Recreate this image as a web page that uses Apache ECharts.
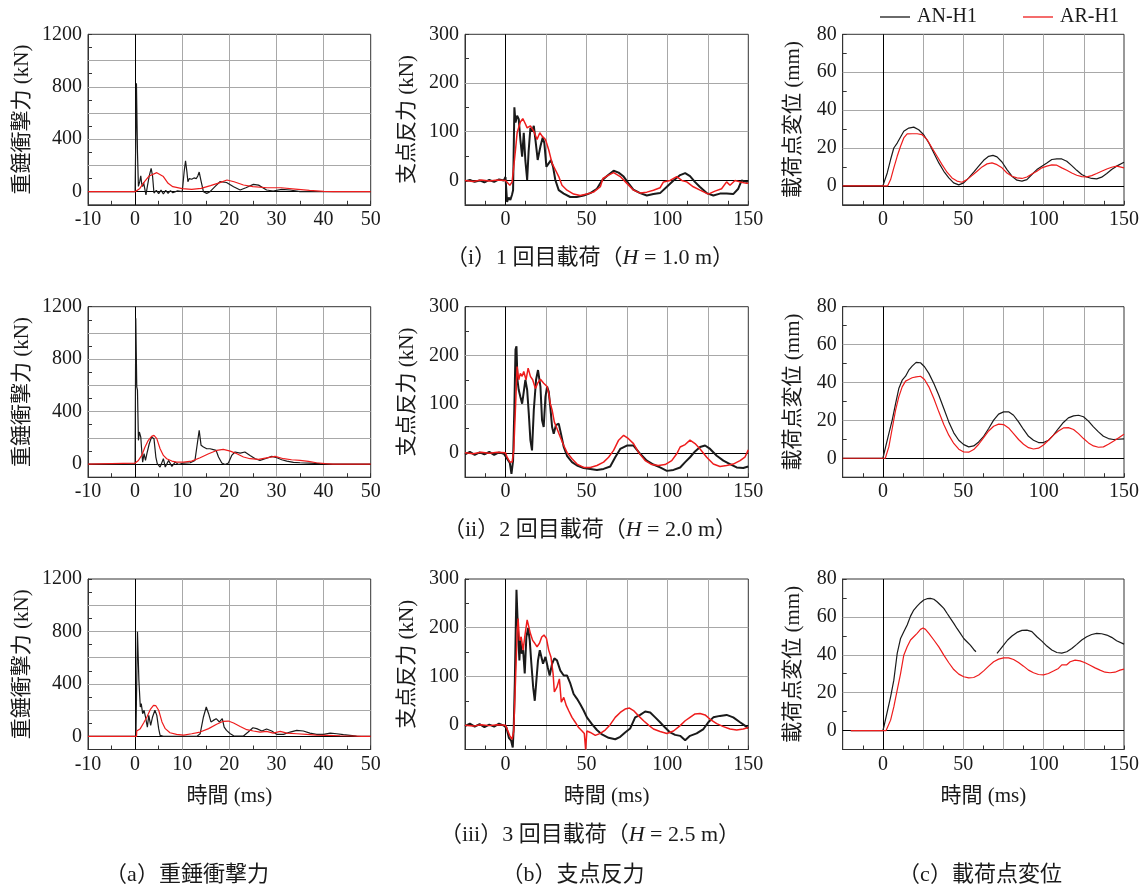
<!DOCTYPE html>
<html><head><meta charset="utf-8">
<script src="https://cdn.jsdelivr.net/npm/echarts@6/dist/echarts.min.js"></script>
<style>html,body{margin:0;padding:0;background:#fff}#c{width:1146px;height:888px}</style>
</head><body><div id="c"></div>
<script>
// ---------- data: [time (ms), value] ----------
// (a) 重錘衝撃力 (kN)
const A1N=[[-10,0],[0,0],[0.1,10],[0.28,826],[0.5,300],[0.7,40],[1.0,80],[1.2,120],[1.4,60],[1.6,40],[1.8,70],[2.0,76],[2.3,-25],[2.6,40],[3.0,120],[3.4,178],[3.7,120],[4.0,-10],[4.5,10],[5,-15],[5.5,12],[6,-18],[6.5,10],[7,-12],[7.5,8],[8,-8],[9,6],[10,0],[10.1,10],[10.4,150],[10.7,236],[11.0,150],[11.2,76],[11.5,100],[12,95],[12.5,105],[13,100],[13.3,120],[13.6,150],[14,80],[14.5,0],[15.2,-13],[15.9,0],[17,40],[18,76],[19.4,70],[20.9,38],[22.3,13],[23.5,30],[25.1,56],[26.2,50],[27.9,13],[29.3,5],[31.1,18],[32.9,13],[35,0],[50,0]];
const A1R=[[-10,0],[0,0],[1,25],[2,76],[3,120],[4.6,145],[6,115],[7,64],[8,38],[10,23],[12,18],[14,25],[16,46],[18,69],[19.5,89],[21,76],[23,51],[25,38],[28,30],[31,30],[34,20],[37,10],[40,3],[42,0],[50,0]];
const A2N=[[-10,0],[0,0],[0.14,1111],[0.35,589],[0.5,563],[0.7,181],[0.9,245],[1.2,206],[1.4,104],[1.6,15],[1.9,79],[2.2,28],[2.5,79],[3,155],[3.5,206],[4,194],[4.4,54],[4.7,3],[5.3,-23],[6,41],[6.4,-23],[7.1,28],[7.8,-18],[8.5,15],[9.2,-3],[10.3,8],[11.7,10],[12.7,28],[13.1,130],[13.6,257],[14,143],[14.5,130],[15.2,117],[15.9,117],[16.6,110],[17.2,104],[17.7,54],[18.4,8],[19.1,-3],[19.8,8],[20.5,66],[21.2,92],[22.3,84],[23.3,92],[24.4,66],[25.5,41],[26.5,28],[27.6,41],[29,59],[30.1,48],[31.1,33],[32.2,23],[33.6,13],[35,10],[37.1,8],[39.2,3],[41.4,0],[50,0]];
const A2R=[[-10,0],[0,8],[0.7,28],[1.4,66],[2.1,130],[2.8,181],[3.5,211],[4,219],[4.6,194],[5.3,117],[6,66],[6.7,41],[7.8,23],[8.8,15],[10.3,15],[12,23],[13.8,48],[15.6,79],[17.3,104],[18.7,112],[20.2,99],[21.6,79],[23,54],[24.4,41],[26.2,36],[27.9,48],[29.7,59],[31.5,41],[33.2,33],[35,28],[36.8,20],[38.5,10],[40.3,3],[42,0],[50,0]];
const A3N=[[-10,0],[0.2,0],[0.2,71],[0.5,797],[0.8,428],[1.1,224],[1.3,250],[1.6,173],[1.9,199],[2.2,148],[2.6,71],[2.9,160],[3.3,84],[3.7,148],[4.2,199],[4.6,160],[5,59],[5.3,8],[6,0],[13.1,0],[13.8,20],[14.5,148],[15.1,224],[15.6,173],[16.1,110],[16.6,122],[17.2,135],[17.9,110],[18.5,135],[18.9,71],[19.4,46],[20.2,20],[20.9,5],[23,3],[24,33],[25,66],[25.8,59],[26.9,41],[27.9,56],[29,41],[30.1,15],[31.5,15],[32.9,33],[34.3,46],[35.7,41],[37.1,25],[38.5,15],[40,15],[41.4,25],[42.8,20],[44.2,13],[45.6,8],[47,3],[48,0],[50,0]];
const A3R=[[-10,0],[0.3,0],[0.35,41],[0.7,33],[1.1,59],[1.8,102],[2.5,148],[3.2,204],[3.9,237],[4.4,234],[5,199],[5.7,110],[6.4,59],[7.4,28],[8.8,15],[10.3,10],[12,20],[13.8,33],[15.6,59],[17.3,92],[18.7,115],[19.8,117],[20.9,102],[22.3,76],[23.7,51],[25.1,41],[26.5,33],[27.9,38],[29.3,25],[30.8,38],[32.2,25],[34.3,20],[36.4,15],[38.5,10],[40.7,8],[43.5,5],[46.3,3],[48,0],[50,0]];
// (b) 支点反力 (kN)
const B1N=[[-25,-2],[-22,1],[-19,-3],[-16,0],[-13,-4],[-10,1],[-7,-3],[-4,2],[-1,0],[0,7],[1,-44],[2,-35],[3,-40],[4,-30],[4.7,-20],[5.5,150],[6.2,119],[7.2,133],[8.2,126],[9.2,84],[10.3,49],[11.3,98],[12.3,40],[13.4,1],[14.3,60],[15.4,108],[16.4,100],[17.5,112],[18.5,84],[19.9,42],[21.6,70],[23,88],[24,77],[25.3,28],[26.7,35],[28.1,42],[29.4,28],[30.8,1],[32.9,-20],[36,-27],[40,-34],[44,-34],[48.3,-31],[52.4,-26],[56.5,-17],[59.6,0],[62.7,9],[66.8,20],[69.9,16],[73,8],[76,-6],[79,-19],[83.2,-26],[87.3,-31],[91.4,-28],[95.5,-26],[99.7,-13],[103.8,0],[107.9,11],[111,15],[114,9],[117,-3],[120,-13],[124.3,-26],[128.4,-31],[132.5,-27],[136.6,-27],[140.7,-28],[143.8,-17],[145.9,0],[149,-3],[150,-2]];
const B1R=[[-25,0],[-20,-2],[-15,1],[-10,-1],[-5,1],[0,0],[2.7,-10],[4.1,-3],[5.1,28],[6.2,63],[7.2,98],[9.2,120],[10.7,127],[11.9,119],[13.4,108],[15.4,112],[17.5,101],[19.5,84],[21.2,98],[22.6,91],[24.7,84],[26.7,63],[28.8,35],[30.8,22],[32.9,8],[34.9,-10],[38,-20],[42.1,-28],[46.2,-31],[50.3,-28],[54.4,-24],[58.6,-13],[60.2,4],[63.7,11],[66.8,16],[70.9,8],[75,-6],[79.1,-20],[83.2,-26],[87.3,-24],[91.4,-20],[95.5,-15],[97.6,-3],[101.7,0],[105.8,8],[108.9,0],[112,-3],[116,-13],[120.2,-20],[125.3,-28],[129.4,-22],[133.5,-17],[136.6,-3],[138.7,-10],[141.8,0],[144.9,-3],[149,-6],[150,-6]];
const B2N=[[-25,-3],[-22,2],[-19,-4],[-16,1],[-13,-3],[-10,2],[-7,-4],[-4,1],[-1,-2],[0,0],[1,-12],[2.7,-21],[3.7,-43],[4.7,-16],[5.5,94],[6.2,212],[6.8,219],[7.4,150],[8.2,129],[9.2,115],[10.3,101],[11.3,98],[12.3,150],[13.4,129],[14.4,81],[15.4,26],[16.4,5],[17.5,88],[18.9,150],[20.1,170],[21.6,136],[22.6,67],[23.6,53],[24.7,115],[25.7,136],[26.7,126],[27.7,94],[28.8,53],[29.8,39],[31.2,57],[32.9,60],[34.3,39],[36,12],[38,-6],[41.1,-19],[44.2,-26],[48.3,-31],[52.4,-33],[56.5,-35],[60.6,-33],[64.7,-28],[67.8,-9],[70.9,8],[75,15],[79.1,15],[83.2,-2],[87.3,-16],[91.4,-24],[95.5,-30],[99.7,-37],[103.8,-35],[107.9,-30],[111,-19],[114,-9],[117.1,3],[120.2,12],[123.3,15],[126.4,8],[130.5,-6],[134.6,-16],[138.7,-23],[142.8,-30],[146.9,-31],[150,-28]];
const B2R=[[-25,0],[-20,-2],[-15,1],[-10,-1],[-5,1],[0,0],[1,-9],[2.7,-19],[4.1,-19],[5.1,5],[6.2,94],[7.2,177],[8.2,150],[9.2,163],[10.3,157],[11.3,167],[12.7,150],[14,174],[15.4,157],[16.8,150],[18.5,132],[19.9,143],[21.6,151],[23.6,143],[25.7,136],[26.7,122],[27.7,101],[28.8,88],[30.2,63],[31.8,50],[33.9,32],[36,15],[38,1],[41.1,-12],[44.2,-23],[48.3,-30],[52.4,-30],[56.5,-26],[60.6,-19],[63.7,-9],[66.8,5],[69.9,26],[73,36],[76,29],[79.1,19],[82.2,1],[86.3,-16],[90.4,-24],[94.5,-26],[98.6,-24],[102.7,-16],[105.8,-2],[107.9,12],[111,17],[114,26],[117.1,19],[120.2,8],[124.3,-9],[128.4,-23],[132.5,-28],[136.6,-26],[140.7,-23],[144.9,-16],[147.9,-9],[150,6]];
const B3N=[[-25,-2],[-22,3],[-19,-3],[-16,2],[-13,-4],[-10,1],[-7,-3],[-4,3],[-1,-1],[0.6,-5],[2.1,-26],[3.5,-32],[4.5,-46],[5.1,-5],[5.8,92],[6.4,209],[6.8,278],[7.4,223],[8,174],[8.6,133],[9.2,174],[10.1,147],[10.9,154],[11.9,106],[12.9,181],[14,199],[15,174],[16,126],[17.1,78],[18.1,50],[19.1,92],[20.1,133],[21.2,154],[22.2,140],[23.2,126],[24.7,140],[26.1,119],[27.3,102],[28.8,126],[30.2,137],[31.8,133],[33.9,112],[36,102],[38,102],[40.1,85],[42.1,64],[44.2,54],[46.2,43],[48.3,30],[50.3,16],[53.4,2],[56.5,-10],[59.6,-19],[63.7,-26],[67.8,-29],[70.9,-24],[73.9,-15],[77,-7],[80.1,16],[83.2,21],[86.3,28],[89.4,26],[92.5,16],[95.5,6],[98.6,-5],[101.7,-15],[104.8,-20],[107.9,-22],[111,-31],[114,-22],[118.1,-17],[122.3,-8],[125.3,6],[128.4,16],[132.5,19],[136.6,21],[140.7,16],[144.9,6],[147.9,-1],[150,-6]];
const B3R=[[-25,0],[-20,-2],[-15,1],[-10,-1],[-5,1],[0,0],[1,-8],[2.7,-22],[4.1,-29],[5.1,-12],[6.2,92],[7.2,188],[7.8,219],[8.6,174],[9.7,181],[10.9,154],[11.9,181],[13.4,216],[14.4,219],[15.4,188],[16.8,174],[18.1,168],[19.5,161],[21,168],[22.4,181],[23.8,185],[25.3,178],[26.7,154],[28.1,140],[29.4,106],[30.2,68],[31.8,78],[33.3,95],[34.5,47],[36,57],[37.6,40],[39,30],[41.1,16],[43.1,6],[45.2,-5],[47.3,-12],[48.7,-17],[49.5,-50],[50.3,-12],[52.4,-15],[55.5,-21],[58.6,-17],[61.6,-10],[64.7,1],[67.8,16],[70.9,26],[73.9,33],[76.6,35],[79.1,30],[82.2,19],[85.3,9],[88.4,0],[91.4,-8],[95.5,-13],[99.7,-17],[103.8,-12],[107.9,-1],[111,9],[114,16],[117.1,23],[120.2,24],[123.3,21],[126.4,12],[130.5,3],[134.6,-3],[138.7,-8],[142.8,-10],[146.9,-8],[150,-5]];
// (c) 載荷点変位 (mm)
const C1N=[[-25,0],[0,0],[0.6,0.7],[2.7,6.8],[4.8,13.9],[6.8,20],[8.9,22.6],[11,25.8],[13,28.8],[16.1,30.5],[19.2,31],[22.3,29.6],[25.4,27],[28.6,22.6],[31.7,17.4],[34.8,12.1],[37.9,7.7],[41,4.2],[44,1.6],[47.2,0.5],[50.3,1.6],[53.4,4.2],[56.5,7.2],[59.6,10.4],[62.7,13.5],[65.8,15.6],[68.5,16.1],[71,15.3],[74.1,12.6],[77.2,8.6],[80.3,5.1],[83.4,3],[86.5,2.5],[89.6,3.3],[92.7,6],[95.8,8.6],[98.9,10.4],[102,12.1],[105.1,13.9],[108.2,14.2],[111.3,14.2],[114.4,13],[117.5,10.7],[120.6,8.2],[123.7,6],[126.8,4.7],[129.9,3.9],[133,3.7],[136.1,4.6],[139.3,6.5],[142.3,8.6],[145.4,10.4],[150,12.5]];
const C1R=[[-25,0],[3,0],[4.8,3.3],[6.8,9.5],[8.9,15.6],[11,20.9],[13,25.3],[15.1,27.4],[18.2,27.5],[21.3,27.5],[24.4,27],[27.5,24.4],[30.6,20],[33.7,15.6],[36.8,11.2],[39.9,7.2],[43,4.2],[46.1,2.5],[49.2,1.9],[52.3,3.3],[55.4,5.4],[58.6,7.7],[61.7,10],[64.8,11.6],[67.9,12.1],[71,11.2],[74.1,9.5],[77.2,6.8],[80.3,5.1],[83.4,4.2],[86.5,3.9],[89.6,4.7],[92.7,6.3],[95.8,7.7],[98.9,9.5],[102,10.4],[105.1,11.1],[108.2,10.9],[111.3,9.5],[114.4,8.2],[117.5,6.8],[120.6,5.6],[123.7,4.9],[126.8,4.7],[129.9,5.4],[133,6.5],[136.1,7.7],[139.3,8.9],[142.3,9.8],[145.4,10.4],[147.5,10],[150,9.5]];
const C2N=[[-25,0],[0,0],[1.7,6],[3.7,13],[5.8,20.1],[7.9,28.9],[9.9,36.8],[12,41.2],[14.1,43.3],[16.1,46.5],[18.2,48.6],[20.7,50.6],[23.4,50.4],[25.9,48.3],[28.6,44.8],[31.7,39.5],[34.8,33.3],[37.9,26.3],[41,19.2],[44.1,13.4],[47.2,9.5],[50.3,7.2],[53.4,6],[56.5,6.5],[59.6,8.6],[62.7,11.6],[65.8,15.7],[68.9,20.1],[72,23.3],[75.1,24.5],[78.2,24.5],[81.3,22.7],[84.4,19.2],[87.5,15.2],[90.6,11.6],[93.7,9.5],[96.8,8.3],[99.9,8.3],[103,9.5],[106.1,12.2],[109.2,15.7],[112.3,18.9],[115.4,21.3],[118.6,22.4],[121.7,22.7],[124.8,21.9],[127.9,19.6],[131,16.6],[134.1,13.9],[137.2,11.6],[140.3,10.4],[143.4,9.9],[150,10.2]];
const C2R=[[-25,0],[1.5,0],[1.7,0.3],[3.7,6],[5.8,15.7],[7.9,25.4],[9.9,32.4],[12,37.7],[14.1,40.7],[16.1,41.6],[18.2,42.5],[20.7,43],[23.4,43.3],[25.9,41.6],[28.6,37.7],[31.7,31.5],[34.8,24.5],[37.9,17.8],[41,12.2],[44.1,7.8],[47.2,4.8],[50.3,3.3],[53.4,3.2],[56.5,4.6],[59.6,7.4],[62.7,10.9],[65.8,14.4],[68.9,16.9],[72,18],[75.1,17.8],[78.2,16],[81.3,13],[84.4,9.9],[87.5,7.4],[90.6,5.6],[93.7,4.9],[96.8,5.3],[99.9,7],[103,9.5],[106.1,12.2],[109.2,14.4],[112.3,16],[115.4,16.2],[118.6,15.2],[121.7,13],[124.8,10.4],[127.9,8.1],[131,6.5],[134.1,5.8],[137.2,6],[140.3,7.4],[143.4,9],[146.5,10.7],[150,12.7]];
const C3N=[[-20,0],[0,0],[0.6,1.9],[2.7,9.9],[4.8,17.8],[6.8,26.6],[8.9,40.7],[11,48.6],[13,52.2],[15.1,55.7],[17.2,60.4],[19.2,63.6],[21.3,65.7],[23.4,67.5],[25.4,68.9],[27.5,69.6],[29.6,69.8],[31.7,69.3],[33.7,68],[35.8,66.3],[37.9,64.5],[39.9,61.9],[42,59.2],[44.1,56.6],[46.1,53.9],[48.2,51.3],[50.3,48.6],[52.3,46.9],[54.4,45.1],[56.5,42.8],[57.9,41.6],[64,null],[71,40.7],[73,42.8],[75.1,45.1],[77.6,47.8],[80.3,49.9],[83.4,51.8],[86.5,52.9],[89.6,53],[92.7,52.2],[95.8,49.5],[98.9,47.2],[102,44.6],[105.1,42.5],[108.2,41.2],[111.3,40.9],[114.4,41.6],[117.5,43.3],[120.6,45.5],[123.7,47.8],[126.8,49.5],[129.9,50.7],[133,51.3],[136.1,51.1],[139.3,50.4],[142.3,49.2],[145.4,47.4],[150,45.6]];
const C3R=[[-20,0],[2,0],[3.1,1],[4.8,5.5],[6.8,12.5],[8.9,21.3],[11,30.1],[13,39.8],[15.1,44.2],[17.2,47.8],[19.2,49.5],[21.3,51.3],[23.4,53.4],[25,54.1],[26.5,53.4],[28.6,51.3],[31.7,47.8],[34.8,44.2],[37.9,39.8],[41,35.8],[44.1,32.2],[47.2,29.8],[50.3,28.4],[53.4,27.8],[56.5,28],[59.6,29.3],[62.7,31.5],[65.8,34],[68.9,36.3],[72,37.7],[75.1,38.4],[78.2,38.4],[81.3,37.5],[84.4,35.9],[87.5,34],[90.6,31.9],[93.7,30.5],[96.8,29.6],[99.9,29.4],[103,30.1],[106.1,31.4],[109.2,32.8],[111.3,34.7],[114.4,34.7],[116.5,36.3],[119.6,37.2],[122.7,36.8],[125.8,35.8],[128.9,34.5],[132,33.1],[135.1,31.9],[138.2,30.8],[141.3,30.5],[144.4,30.8],[147.5,31.9],[150,32.4]];

const seriesNames=['AN-H1','AR-H1'];
const yTitles=['重錘衝撃力 (kN)','支点反力 (kN)','載荷点変位 (mm)'];
const xTitle='時間 (ms)';
const rowCaptions=[['（i）1 回目載荷（',' = 1.0 m）'],['（ii）2 回目載荷（',' = 2.0 m）'],['（iii）3 回目載荷（',' = 2.5 m）']];
const colCaptions=['（a）重錘衝撃力','（b）支点反力','（c）載荷点変位'];
const panelData=[[[A1N,A1R],[B1N,B1R],[C1N,C1R]],[[A2N,A2R],[B2N,B2R],[C2N,C2R]],[[A3N,A3R],[B3N,B3R],[C3N,C3R]]];
// axis scales per column (ticks every int, labels every lab, grid lines at gridX / gridY)
const xScales=[{min:-10,max:50,int:5,lab:10,labMin:-10},{min:-25,max:150,int:12.5,lab:50,labMin:0},{min:-25,max:150,int:12.5,lab:50,labMin:0}];
const yScales=[{min:-100,max:1200,int:100,lab:400,labMin:0},{min:-50,max:300,int:50,lab:100,labMin:0},{min:-10,max:80,int:10,lab:20,labMin:0}];
const gridX=[[10,20,30,40],[25,50,75,100,125],[25,50,75,100,125]];
const gridY=[[200,400,600,800,1000],[100,200],[20,40,60]];

// ---------- layout / style ----------
const colBox=[{left:88,width:282.7,nameGap:55},{left:465,width:283.3,nameGap:47},{left:842.7,width:281.3,nameGap:39}];
const rowTop=[34.3,306.7,579], rowH=170.5;
const NUMF="Liberation Serif, Times New Roman, serif";
const SERIF="Liberation Serif, Noto Sans CJK JP, serif";
const TXT='#1a1a1a', GRIDC='#a8a8a8', FRAME='#333', BLACK='#1a1a1a', RED='#ee1c1c';
const isMul=(v,s)=>Math.abs(v/s-Math.round(v/s))<1e-6;
function axisBase(a){return{type:'value',min:a.min,max:a.max,interval:a.int,
  axisLine:{show:true,onZero:false,lineStyle:{color:FRAME,width:1}},
  axisTick:{show:true,inside:true,length:4,lineStyle:{color:FRAME}},
  axisLabel:{showMinLabel:true,showMaxLabel:true,fontFamily:NUMF,fontSize:20,color:TXT,margin:6,
    textStyle:{fontFamily:NUMF,fontSize:20,color:TXT},
    formatter:v=>(isMul(v,a.lab)&&v>=a.labMin-1e-9)?String(Math.round(v)):''},
  splitLine:{show:false}};}

const grids=[],xAxes=[],yAxes=[],series=[];
for(let r=0;r<3;r++)for(let c=0;c<3;c++){
  const gi=grids.length;
  grids.push({left:colBox[c].left,top:rowTop[r],width:colBox[c].width,height:rowH,show:true,borderColor:FRAME,borderWidth:1,containLabel:false});
  const xa=axisBase(xScales[c]);xa.gridIndex=gi;xa.axisLabel.margin=5;
  if(r===2){xa.name=xTitle;xa.nameLocation='middle';xa.nameGap=36;xa.nameTextStyle={fontFamily:SERIF,fontSize:21,color:TXT};}
  xAxes.push(xa);
  const ya=axisBase(yScales[c]);ya.gridIndex=gi;ya.name=yTitles[c];ya.nameLocation='middle';ya.nameRotate=90;ya.nameGap=colBox[c].nameGap;
  ya.nameTextStyle={fontFamily:SERIF,fontSize:21,color:TXT};
  yAxes.push(ya);
  const ml=[];
  gridX[c].forEach(v=>ml.push({xAxis:v,lineStyle:{color:GRIDC,width:1,type:'solid'}}));
  gridY[c].forEach(v=>ml.push({yAxis:v,lineStyle:{color:GRIDC,width:1,type:'solid'}}));
  ml.push({xAxis:0,lineStyle:{color:'#000',width:1,type:'solid'}});
  ml.push({yAxis:0,lineStyle:{color:'#000',width:1,type:'solid'}});
  const [dn,dr]=panelData[r][c];
  const wN=c===1?2.0:1.2, wR=c===1?1.5:1.2;
  series.push({type:'line',name:seriesNames[0],data:dn,xAxisIndex:gi,yAxisIndex:gi,showSymbol:false,symbol:'none',connectNulls:false,
    lineStyle:{color:BLACK,width:wN},itemStyle:{color:BLACK},animation:false,z:2,
    markLine:{silent:true,symbol:['none','none'],label:{show:false},animation:false,z:1,data:ml}});
  series.push({type:'line',name:seriesNames[1],data:dr,xAxisIndex:gi,yAxisIndex:gi,showSymbol:false,symbol:'none',
    lineStyle:{color:RED,width:wR},itemStyle:{color:RED},animation:false,z:3});
}
const capRich={a:{fontFamily:SERIF,fontSize:22,color:TXT},h:{fontFamily:NUMF,fontSize:22,fontStyle:'italic',color:TXT}};
const capY=[258,530,835];
const graphic=[];
rowCaptions.forEach((t,i)=>graphic.push({type:'text',x:590,y:capY[i],style:{text:'{a|'+t[0]+'}{h|H}{a|'+t[1]+'}',rich:capRich,align:'center',verticalAlign:'middle',fill:TXT,font:'22px '+SERIF}}));
const colCapX=[187,573,980];
colCaptions.forEach((t,i)=>graphic.push({type:'text',x:colCapX[i],y:875,style:{text:t,align:'center',verticalAlign:'middle',fill:TXT,font:'22px '+SERIF}}));
// legend (line samples + names)
const legendItems=[{x:880,color:BLACK},{x:1023,color:RED}];
legendItems.forEach((it,i)=>{
  graphic.push({type:'line',shape:{x1:it.x,y1:17,x2:it.x+30,y2:17},style:{stroke:it.color,lineWidth:1.3}});
  graphic.push({type:'text',x:it.x+37,y:17,style:{text:seriesNames[i],align:'left',verticalAlign:'middle',fill:TXT,font:'20px '+NUMF}});
});

const chart=echarts.init(document.getElementById('c'),null,{renderer:'canvas'});
chart.setOption({animation:false,backgroundColor:'#fff',
  textStyle:{fontFamily:SERIF},
  grid:grids,xAxis:xAxes,yAxis:yAxes,series,graphic});
</script></body></html>
